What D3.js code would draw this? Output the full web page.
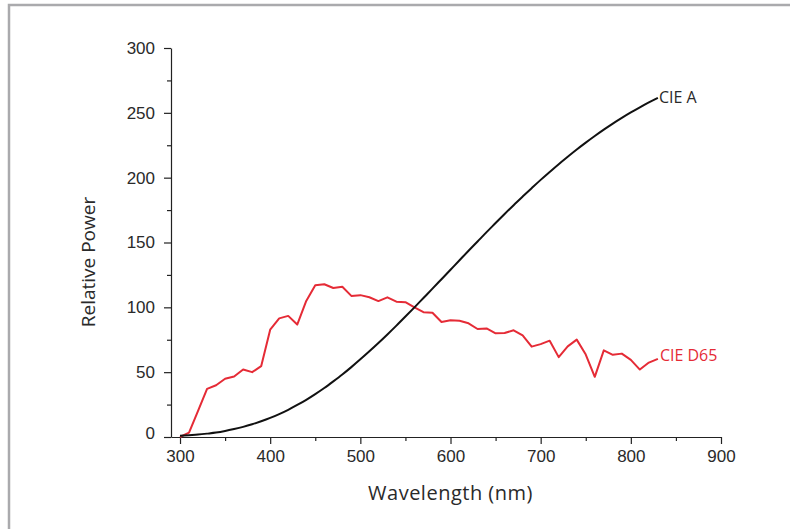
<!DOCTYPE html>
<html>
<head>
<meta charset="utf-8">
<script src="https://cdn.jsdelivr.net/npm/d3@7"></script>
<style>
	body { margin: 0; background: #fff; }
	svg { display: block; }
	text { font-family: "Open Sans", "DejaVu Sans", sans-serif; }
</style>
</head>
<body>
<svg width="790" height="529"></svg>
<script>

	// wavelengths 300 - 830 nm, step 10
	var wavelengths = d3.range(300, 831, 10);

	// CIE D65 relative spectral power
	var d65_values = [0.0, 3.3, 20.2, 37.1, 39.9, 44.9, 46.6, 52.1, 50.0, 54.6,
		82.8, 91.5, 93.4, 86.7, 104.9, 117.0, 117.8, 114.9, 115.9, 108.8,
		109.4, 107.8, 104.8, 107.7, 104.4, 104.0, 100.0, 96.3, 95.8, 88.7,
		90.0, 89.6, 87.7, 83.3, 83.7, 80.0, 80.2, 82.3, 78.3, 69.7,
		71.6, 74.3, 61.6, 69.9, 75.1, 63.6, 46.4, 66.8, 63.4, 64.3,
		59.5, 52.0, 57.4, 60.3];

	// CIE A relative spectral power
	var a_values = [0.9, 1.4, 1.9, 2.6, 3.4, 4.6, 6.1, 7.8, 9.8, 12.1,
		14.7, 17.7, 21.0, 24.7, 28.7, 33.1, 37.8, 42.9, 48.2, 53.9,
		59.9, 66.1, 72.5, 79.1, 85.9, 92.9, 100.0, 107.2, 114.4, 121.7,
		129.0, 136.3, 143.6, 150.8, 158.0, 165.0, 172.0, 178.8, 185.4, 191.9,
		198.3, 204.4, 210.4, 216.1, 221.7, 227.0, 232.1, 237.0, 241.7, 246.1,
		250.3, 254.3, 258.1, 261.6];

	var x_ticks = [300, 400, 500, 600, 700, 800, 900],
		x_minor = [350, 450, 550, 650, 750, 850],
		y_ticks = [0, 50, 100, 150, 200, 250, 300],
		y_minor = [25, 75, 125, 175, 225, 275];

	var svg = d3.select("svg");

	// frame (only top and left edges show)
	svg.append("path")
		.attr("d", "M9,529 V5 H790")
		.attr("fill", "none")
		.attr("stroke", "#aaaaad")
		.attr("stroke-width", 2.5);

	var x = d3.scaleLinear().domain([290, 900]).range([171, 721]);
	var y = d3.scaleLinear().domain([0, 300]).range([437, 48]);

	function style_axis(g){
		g.selectAll("path.domain").attr("stroke", "#222").attr("stroke-width", 1.2);
		g.selectAll(".tick line").attr("stroke", "#222").attr("stroke-width", 1.2);
		g.selectAll(".tick text")
			.attr("fill", "#2a2a2a")
			.style("font-family", "'Liberation Sans', Arial, sans-serif")
			.style("font-size", "17px");
	}

	// x axis
	var gx = svg.append("g").attr("transform", "translate(0," + y(0) + ")")
		.call(d3.axisBottom(x).tickValues(x_ticks).tickSize(7).tickSizeOuter(0).tickPadding(6));
	style_axis(gx);
	svg.append("g").attr("transform", "translate(0," + y(0) + ")")
		.call(d3.axisBottom(x).tickValues(x_minor).tickSize(4).tickFormat(""))
		.call(function(g){ g.select("path.domain").remove(); })
		.call(style_axis);

	// y axis
	var gy = svg.append("g").attr("transform", "translate(" + x(290) + ",0)")
		.call(d3.axisLeft(y).tickValues(y_ticks).tickSize(7).tickSizeOuter(0).tickPadding(9));
	style_axis(gy);
	gy.selectAll(".tick text").filter(function(d){ return d === 0; }).attr("dy", "0.1em");
	svg.append("g").attr("transform", "translate(" + x(290) + ",0)")
		.call(d3.axisLeft(y).tickValues(y_minor).tickSize(4).tickFormat(""))
		.call(function(g){ g.select("path.domain").remove(); })
		.call(style_axis);

	// axis titles
	svg.append("text")
		.attr("x", x(600)).attr("y", 500)
		.attr("text-anchor", "middle")
		.attr("fill", "#2a2a2a")
		.style("font-size", "20px")
		.style("letter-spacing", "0.5px")
		.text("Wavelength (nm)");

	svg.append("text")
		.attr("transform", "translate(95,262) rotate(-90)")
		.attr("text-anchor", "middle")
		.attr("fill", "#2a2a2a")
		.style("font-size", "19px")
		.text("Relative Power");

	var line = d3.line()
		.x(function(d){ return x(d[0]); })
		.y(function(d){ return y(d[1]); });

	var a_data = d3.zip(wavelengths, a_values),
		d65_data = d3.zip(wavelengths, d65_values);

	svg.append("path")
		.datum(d65_data)
		.attr("d", line.curve(d3.curveLinear))
		.attr("fill", "none")
		.attr("stroke", "#e52b36")
		.attr("stroke-width", 2)
		.attr("stroke-linejoin", "round");

	svg.append("path")
		.datum(a_data)
		.attr("d", line.curve(d3.curveMonotoneX))
		.attr("fill", "none")
		.attr("stroke", "#111")
		.attr("stroke-width", 2);

	// series labels at the end of each line
	var a_last = a_data[a_data.length - 1],
		d65_last = d65_data[d65_data.length - 1];

	svg.append("text")
		.attr("x", x(a_last[0]) + 1).attr("y", y(a_last[1]))
		.attr("dy", "0.35em")
		.attr("fill", "#2a2a2a")
		.style("font-size", "16px")
		.text("CIE A");

	svg.append("text")
		.attr("x", x(d65_last[0]) + 2).attr("y", y(d65_last[1]) - 3)
		.attr("dy", "0.35em")
		.attr("fill", "#e52b36")
		.style("font-size", "16px")
		.text("CIE D65");

</script>
</body>
</html>
